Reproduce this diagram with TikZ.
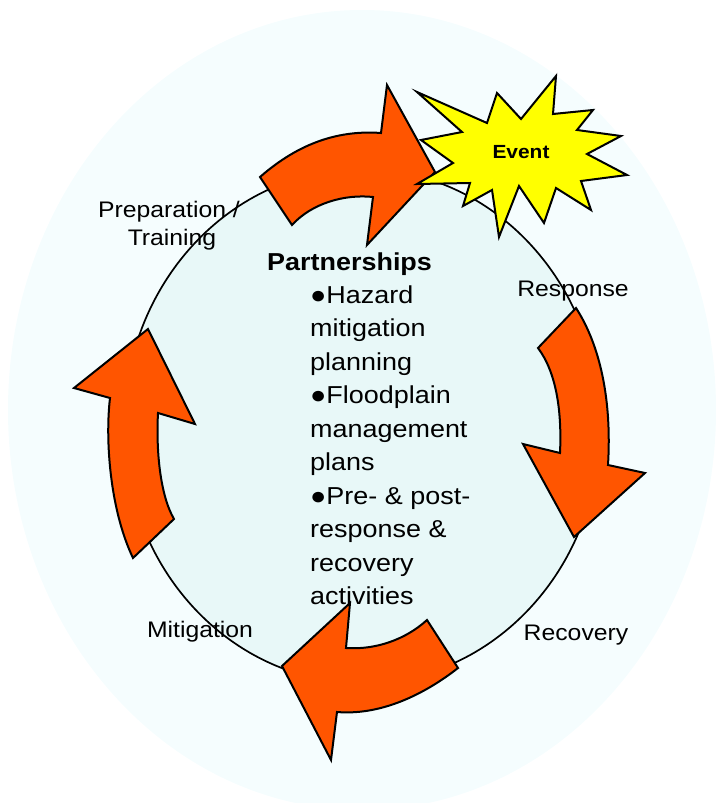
\documentclass[tikz,border=0pt]{standalone}
\usepackage{fontspec}
\setmainfont{Liberation Sans}[FakeStretch=1.1]
\definecolor{bgout}{RGB}{245,253,254}
\definecolor{bgin}{RGB}{232,248,248}
\definecolor{arrowred}{RGB}{255,85,0}
\definecolor{staryellow}{RGB}{255,255,0}
\tikzset{
  cyclearrow/.style={draw=black, line width=2pt, fill=arrowred, line join=miter},
  lbl/.style={font=\fontsize{22.5}{27}\selectfont, inner sep=0pt, anchor=base},
  bodytxt/.style={font=\fontsize{24.5}{33.5}\selectfont, inner sep=0pt, anchor=base west},
}
\begin{document}
\begin{tikzpicture}[x=1pt,y=-1pt]
\useasboundingbox (0,0) rectangle (715,803);
% background ellipse
\fill[bgout] (362,410) ellipse [x radius=354pt, y radius=400pt];
% inner cycle ellipse
\draw[fill=bgin, line width=1.7pt] (362,426) ellipse [x radius=238pt, y radius=257pt];
% labels
\node[lbl] (prep1) at (169,217) {Preparation /};
\node[lbl] (prep2) at (172,245) {Training};
\node[lbl] (resp) at (573,296) {Response};
\node[lbl] (reco) at (576,640) {Recovery};
\node[lbl] (miti) at (200,637) {Mitigation};
% central text
\node[bodytxt, font=\fontsize{24.5}{33.5}\selectfont\bfseries] (title) at (267,270) {Partnerships};
\foreach \t/\yy [count=\i] in {{●Hazard}/303, {mitigation}/336.5, {planning}/370,
  {●Floodplain}/403.5, {management}/437, {plans}/470.5, {●Pre- \& post-}/504,
  {response \&}/537.5, {recovery}/571, {activities}/604.5}
  \node[bodytxt] (body\i) at (310,\yy) {\t};
% top arrow
\draw[cyclearrow] (260,177) .. controls (300,142) and (340,130) .. (381,133)
  -- (387,85) -- (435,172) -- (367,245) -- (373,197)
  .. controls (345,194) and (312,203) .. (292,225) -- cycle;
% right arrow
\draw[cyclearrow] (576,308) .. controls (600,345) and (612,400) .. (608,465)
  -- (645,473) -- (574,537) -- (523,444) -- (560,453)
  .. controls (562,410) and (556,372) .. (538,348) -- cycle;
% bottom arrow
\draw[cyclearrow] (458,668) .. controls (430,690) and (385,716) .. (337,712)
  -- (331,760) -- (282,666) -- (350,603) -- (346,648)
  .. controls (375,650) and (405,640) .. (427,620) -- cycle;
% left arrow
\draw[cyclearrow] (133,558) .. controls (110,510) and (105,440) .. (110,398)
  -- (74,388) -- (148,329) -- (195,424) -- (158,413)
  .. controls (156,450) and (160,495) .. (174,519) -- cycle;
% event star
\draw[fill=staryellow, line width=2pt, line join=miter]
  (417,92) -- (487,123) -- (497,93) -- (521,119) -- (556,76) -- (553,114)
  -- (593,110) -- (577,130) -- (621,136) -- (587,154) -- (627,175) -- (581,181)
  -- (591,210) -- (556,188) -- (544,223) -- (519,186) -- (499,237) -- (492,190)
  -- (463,206) -- (470,183) -- (417,184) -- (453,163) -- (421,140) -- (462,132) -- cycle;
\node[inner sep=0pt, anchor=base, font=\fontsize{19}{22}\selectfont\bfseries] (event) at (521,158) {Event};
\end{tikzpicture}
\end{document}
